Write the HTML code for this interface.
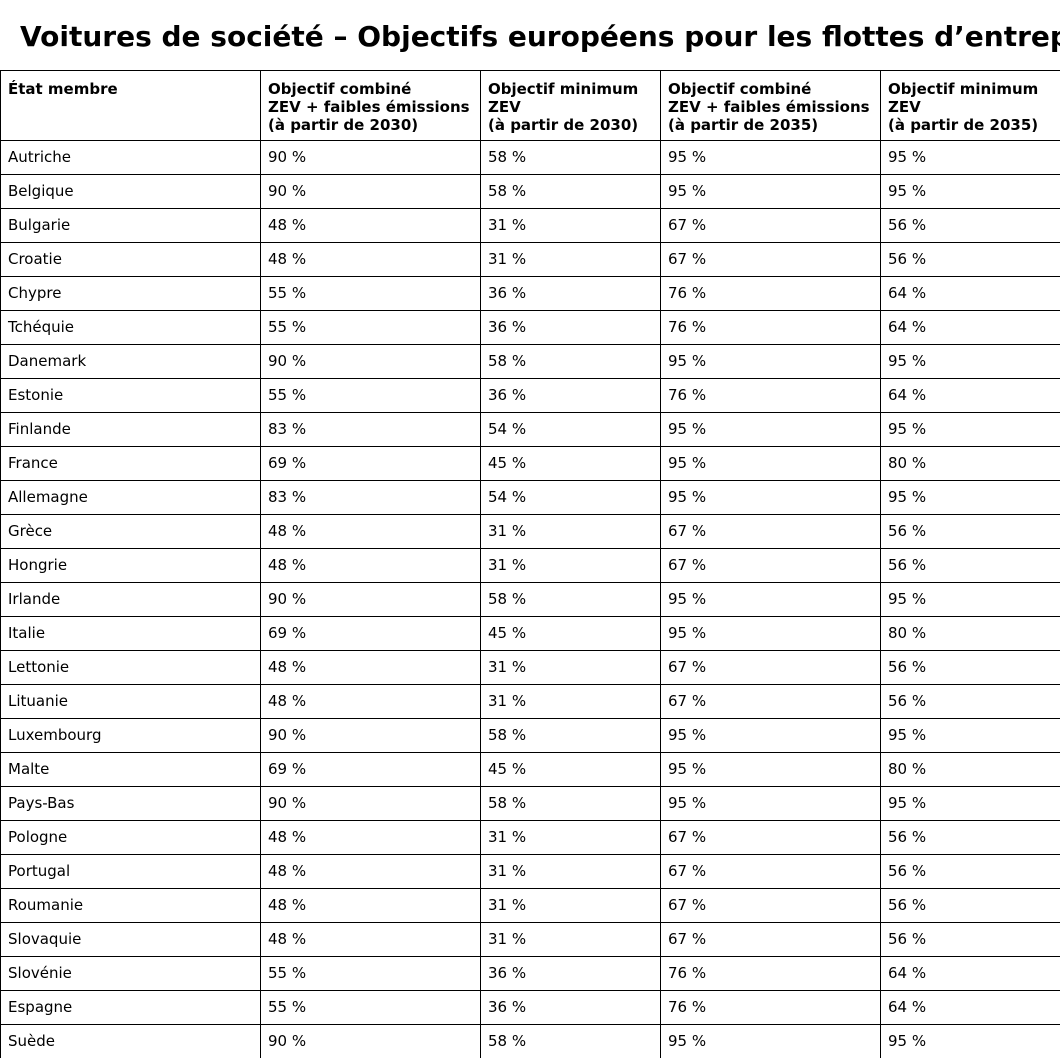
<!DOCTYPE html>
<html><head><meta charset="utf-8"><style>
html,body{margin:0;padding:0;width:1060px;height:1058px;overflow:hidden;background:#fff;font-family:"DejaVu Sans","Liberation Sans",sans-serif;color:#000}
#wrap{position:relative;width:1060px;height:1058px;overflow:hidden}
#t{position:absolute;left:20px;top:17px;font-size:28px;font-weight:bold;white-space:nowrap;line-height:40px}
.h{position:absolute;left:0;height:1px;width:1060px;background:#000}
.v{position:absolute;top:70px;width:1px;height:988px;background:#000}
.c{position:absolute;font-size:15px;white-space:nowrap;height:34px;line-height:34px}
.hd{position:absolute;top:80px;font-size:15px;font-weight:bold;line-height:18px;white-space:nowrap}
</style></head><body>
<div id="wrap">
<div id="t">Voitures de société – Objectifs européens pour les flottes d’entreprises</div>
<div id="g"></div>
</div>
<script>
var g=document.getElementById('g'),h='';
var xs=[0,260,480,660,880];
h+='<div class="h" style="top:70px"></div>';
for(var i=0;i<27;i++){h+='<div class="h" style="top:'+(140+34*i)+'px"></div>';}
xs.forEach(function(x){h+='<div class="v" style="left:'+x+'px"></div>';});
var hd=['État membre','Objectif combiné<br>ZEV + faibles émissions<br>(à partir de 2030)','Objectif minimum<br>ZEV<br>(à partir de 2030)','Objectif combiné<br>ZEV + faibles émissions<br>(à partir de 2035)','Objectif minimum<br>ZEV<br>(à partir de 2035)'];
hd.forEach(function(t,j){h+='<div class="hd" style="left:'+(xs[j]+8)+'px">'+t+'</div>';});
var A=[90,58,95,95],B=[48,31,67,56],C=[55,36,76,64],D=[83,54,95,95],E=[69,45,95,80];
var rows=[['Autriche',A],['Belgique',A],['Bulgarie',B],['Croatie',B],['Chypre',C],['Tchéquie',C],['Danemark',A],['Estonie',C],['Finlande',D],['France',E],['Allemagne',D],['Grèce',B],['Hongrie',B],['Irlande',A],['Italie',E],['Lettonie',B],['Lituanie',B],['Luxembourg',A],['Malte',E],['Pays-Bas',A],['Pologne',B],['Portugal',B],['Roumanie',B],['Slovaquie',B],['Slovénie',C],['Espagne',C],['Suède',A]];
rows.forEach(function(r,i){var y=140+34*i;
h+='<div class="c" style="left:8px;top:'+y+'px">'+r[0]+'</div>';
r[1].forEach(function(v,j){h+='<div class="c" style="left:'+(xs[j+1]+8)+'px;top:'+y+'px">'+v+' %</div>';});});
g.innerHTML=h;
</script>
</body></html>
